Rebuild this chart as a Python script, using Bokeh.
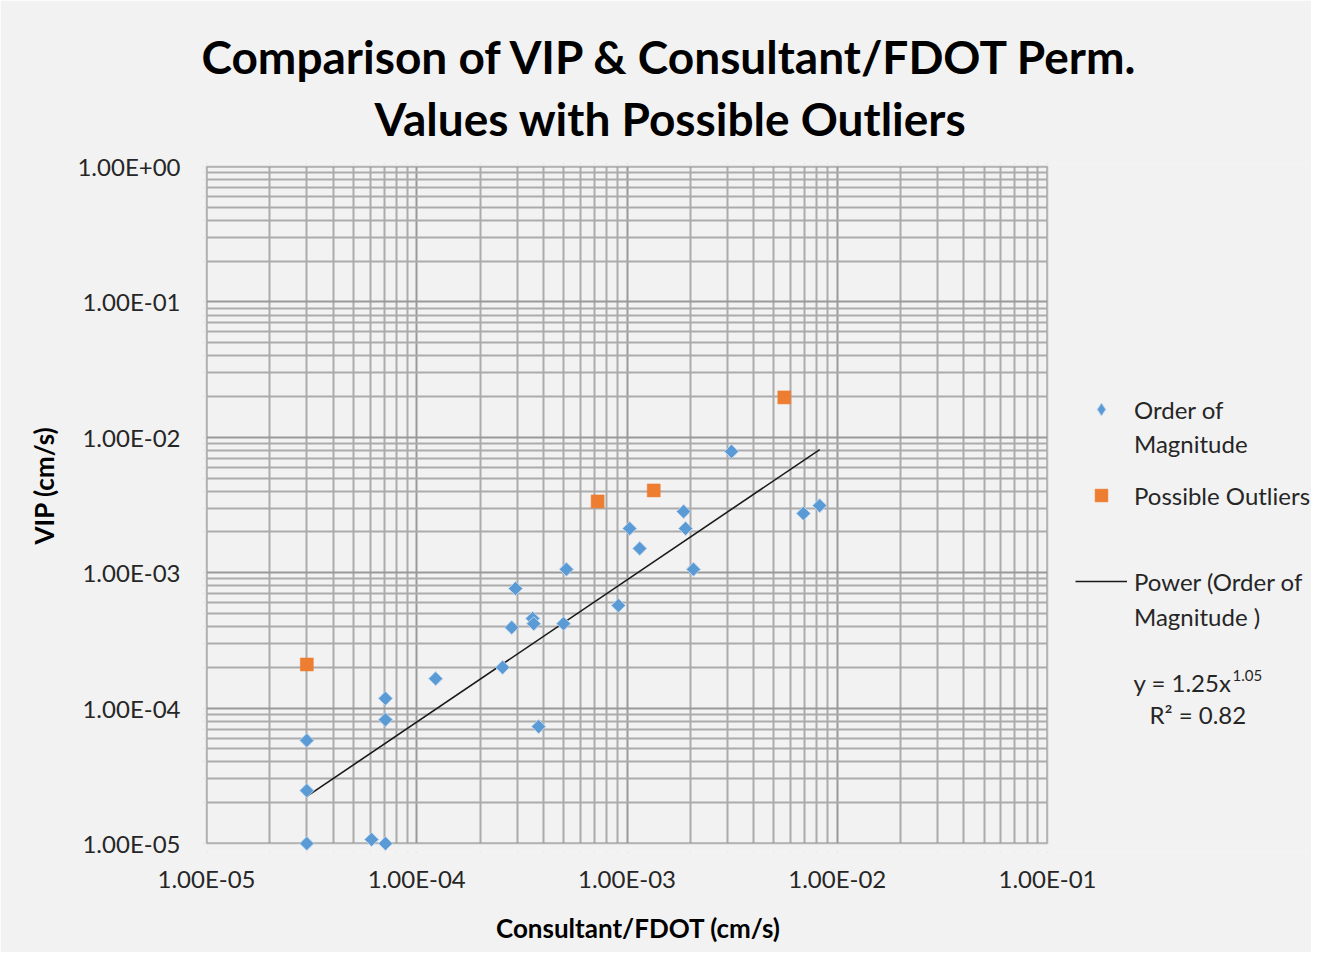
import numpy as np
from bokeh.plotting import figure
from bokeh.models import (Range1d, FixedTicker, CustomJSTickFormatter, Title,
                          Legend, LegendItem, Label, BoxAnnotation, LogAxis)
from bokeh.embed import file_html
from bokeh.resources import INLINE

# ---- data ----
order_x = [3.0e-5, 3.0e-5, 3.0e-5, 7.1e-5, 7.1e-5, 6.1e-5, 7.1e-5, 1.23e-4,
           2.56e-4, 3.8e-4, 2.95e-4, 2.83e-4, 3.56e-4, 3.6e-4, 4.99e-4,
           5.15e-4, 9.1e-4, 1.03e-3, 1.15e-3, 1.86e-3, 1.9e-3, 2.07e-3,
           3.14e-3, 6.9e-3, 8.25e-3]
order_y = [1.0e-5, 2.46e-5, 5.77e-5, 1.18e-4, 8.2e-5, 1.07e-5, 1.0e-5, 1.65e-4,
           2.0e-4, 7.3e-5, 7.64e-4, 3.94e-4, 4.59e-4, 4.2e-4, 4.2e-4,
           1.06e-3, 5.73e-4, 2.12e-3, 1.51e-3, 2.83e-3, 2.12e-3, 1.06e-3,
           7.85e-3, 2.74e-3, 3.13e-3]
outlier_x = [3.0e-5, 7.25e-4, 1.34e-3, 5.6e-3]
outlier_y = [2.1e-4, 3.36e-3, 4.05e-3, 1.97e-2]
fit_a = 1.25
fit_b = "1.05"
fit_r2 = 0.82
x_major = [1e-5, 1e-4, 1e-3, 1e-2, 1e-1]
y_major = [1e-5, 1e-4, 1e-3, 1e-2, 1e-1, 1e0]
title_lines = ["Comparison of VIP & Consultant/FDOT Perm.",
               "Values with Possible Outliers"]
x_title = "Consultant/FDOT  (cm/s)"
y_title = "VIP (cm/s)"
legend_rows = [["Order of", "Magnitude"], ["Possible Outliers"],
               ["Power (Order of", "Magnitude )"]]

FONT = "Lato"
BG = "#f2f2f2"
TXT = "#262626"

# ---- layout (pixels) ----
W, H = 1311, 952
PA_L, PA_R, PA_T, PA_B = 206, 1047, 166, 843      # plot area
EXT_L, EXT_T, EXT_B = 3, 3, 9                      # frame slightly larger than plot area
FR_L, FR_T, FR_B = PA_L - EXT_L, PA_T - EXT_T, PA_B + EXT_B
dec_x = (PA_R - PA_L) / (np.log10(x_major[-1]) - np.log10(x_major[0]))
dec_y = (PA_B - PA_T) / (np.log10(y_major[-1]) - np.log10(y_major[0]))

def x_at(px):
    return 10 ** (np.log10(x_major[0]) + (px - PA_L) / dec_x)

def y_at(py):
    return 10 ** (np.log10(y_major[-1]) - (py - PA_T) / dec_y)

def minors(majors):
    out = []
    for m in majors[:-1]:
        for k in range(2, 10):
            out.append(k * m)
    return out

p = figure(width=W, height=H, x_axis_type="log", y_axis_type="log",
           x_range=Range1d(x_at(FR_L), x_at(W)), y_range=Range1d(y_at(FR_B), y_at(FR_T)),
           output_backend="svg", toolbar_location=None,
           min_border_left=FR_L, min_border_right=0,
           min_border_top=FR_T, min_border_bottom=H - FR_B,
           background_fill_color=BG, border_fill_color=BG)
p.outline_line_color = None

# titles: p.title is the upper line, the added Title sits next to the frame
def style_title(t):
    t.align = "left"
    t.text_font = FONT
    t.text_font_size = "46px"
    t.text_font_style = "bold"
    t.text_color = "#000000"

p.title.text = title_lines[0]
style_title(p.title)
p.title.offset = -5 + EXT_L
try:
    p.title.standoff = -27
except Exception:
    p.title.standoff = 0
t2 = Title(text=title_lines[1])
style_title(t2)
t2.offset = 168 + EXT_L
t2.standoff = 36
p.add_layout(t2, "above")

fmt = CustomJSTickFormatter(code="""
const s = tick.toExponential(2);
const parts = s.split('e');
let e = parts[1];
const sign = e[0] === '-' ? '-' : '+';
e = e.replace('+','').replace('-','');
if (e.length < 2) { e = '0' + e; }
return parts[0] + 'E' + sign + e;
""")

p.xaxis.ticker = FixedTicker(ticks=x_major, minor_ticks=minors(x_major))
p.yaxis.ticker = FixedTicker(ticks=y_major, minor_ticks=minors(y_major))
for ax in (p.xaxis, p.yaxis):
    ax.formatter = fmt
    ax.axis_line_color = None
    ax.major_tick_line_color = None
    ax.minor_tick_line_color = None
    ax.major_label_text_font = FONT
    ax.major_label_text_font_size = "24px"
    ax.major_label_text_color = TXT
p.xaxis.major_label_standoff = 14 - EXT_B
p.yaxis.major_label_standoff = 20 - EXT_L

# axis titles placed like the reference (centred on the whole chart, not the frame)
def title_axis(kind, text, pos, standoff, side):
    ax = LogAxis(ticker=FixedTicker(ticks=[pos], minor_ticks=[]),
                 formatter=CustomJSTickFormatter(args=dict(t=text), code="return t;"),
                 axis_line_color=None, major_tick_line_color=None,
                 minor_tick_line_color=None, major_tick_out=0, minor_tick_out=0,
                 major_label_standoff=standoff,
                 major_label_text_font=FONT, major_label_text_font_size="26px",
                 major_label_text_font_style="bold", major_label_text_color="#000000")
    if kind == "y":
        ax.major_label_orientation = "parallel"
    p.add_layout(ax, side)

title_axis("x", x_title, x_at(641), 16, "below")
title_axis("y", y_title, y_at(485), 15, "left")

for g in (p.xgrid, p.ygrid):
    g.grid_line_color = "#999999"
    g.grid_line_width = 2
    g.minor_grid_line_color = "#ababab"
    g.minor_grid_line_width = 2

# blank out the frame outside the plot area, then draw the plot-area border
for kw in (dict(left=x_major[-1]), dict(right=x_major[0]),
           dict(top=y_major[0]), dict(bottom=y_major[-1])):
    p.add_layout(BoxAnnotation(fill_color=BG, fill_alpha=1, line_color=None,
                               level="underlay", **kw))
p.add_layout(BoxAnnotation(left=x_major[0], right=x_major[-1],
                           bottom=y_major[0], top=y_major[-1],
                           fill_alpha=0, line_color="#8c8c8c", line_width=2,
                           level="underlay"))

# trend line from the fitted power law
tx = np.array([min(order_x), max(order_x)])
ty = fit_a * tx ** float(fit_b)
r_line = p.line(tx, ty, line_color="#1a1a1a", line_width=1.6)

r_blue = p.scatter(order_x, order_y, marker="square", angle=np.pi / 4, size=10,
                   fill_color="#5b9bd5", line_color="#bcd3ee", line_width=1)
r_orange = p.scatter(outlier_x, outlier_y, marker="square", size=13,
                     fill_color="#ed7d31", line_color="#ed7d31", line_width=0.5)
# off-range proxies used only for legend swatches / text rows
r_blue_key = p.scatter([1e-9], [1e-9], marker="diamond", size=10,
                       fill_color="#5b9bd5", line_color="#bcd3ee", line_width=1)
r_blank = p.scatter([1e-9], [1e-9], marker="square", size=1,
                    fill_alpha=0, line_alpha=0)

def fx(px):
    return px - FR_L

def fy(py):
    return FR_B - py

def make_legend(labels, first_renderer, px, py_bottom, spacing):
    items = [LegendItem(label=labels[0], renderers=[first_renderer])]
    for lab in labels[1:]:
        items.append(LegendItem(label=lab, renderers=[r_blank]))
    lg = Legend(items=items, location=(fx(px), fy(py_bottom)), orientation="vertical",
                spacing=spacing, padding=0, margin=0, border_line_color=None,
                background_fill_alpha=0, glyph_width=52, glyph_height=32,
                label_height=32, label_standoff=7,
                label_text_font=FONT, label_text_font_size="24px",
                label_text_color=TXT)
    p.add_layout(lg, "center")

make_legend(legend_rows[0], r_blue_key, 1075, 459, 2)
make_legend(legend_rows[1], r_orange, 1075, 511, 0)
make_legend(legend_rows[2], r_line, 1075, 632, 3)

def lab(text, px, py, size):
    p.add_layout(Label(x=fx(px), y=fy(py), x_units="screen", y_units="screen",
                       text=text, text_font=FONT, text_font_size=size,
                       text_align="left", text_baseline="middle",
                       text_color=TXT), "center")

lab("y = %.2fx" % fit_a, 1133, 682, "24px")
lab(fit_b, 1232, 675, "15px")
lab("R\u00b2 = %.2f" % fit_r2, 1149, 714, "24px")

open("out.html", "w").write(file_html(p, INLINE))
